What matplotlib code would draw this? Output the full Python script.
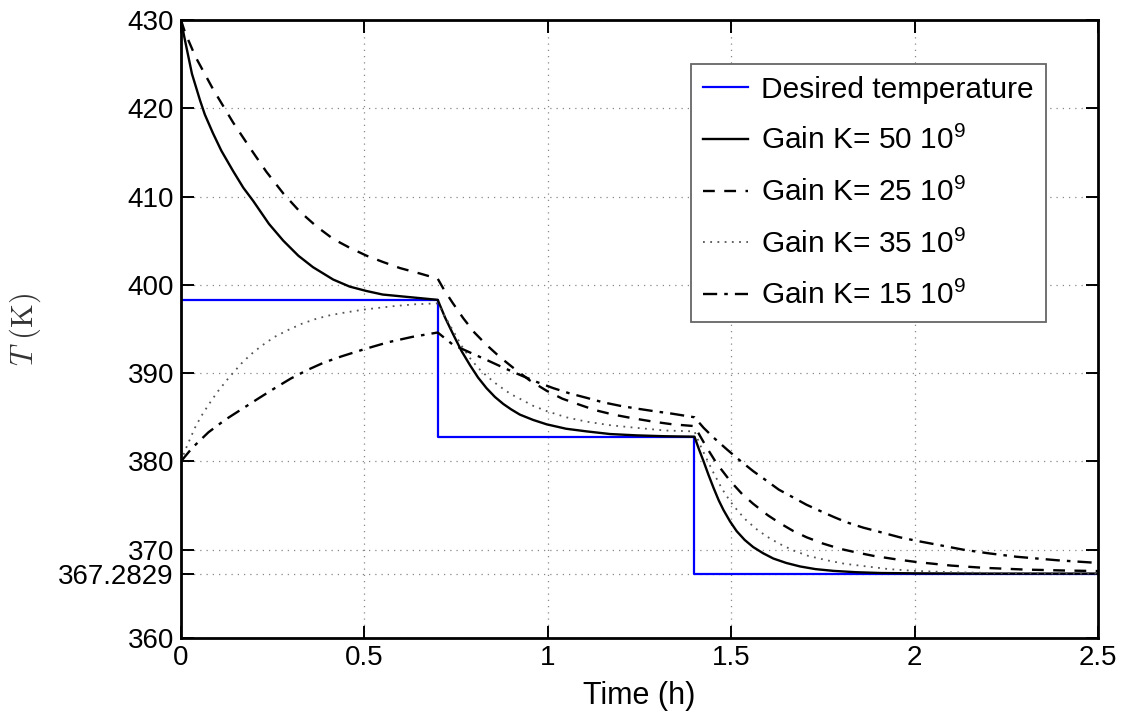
import numpy as np
import matplotlib
matplotlib.use("Agg")
import matplotlib.pyplot as plt

plt.rcParams['font.family'] = ['Liberation Sans', 'DejaVu Sans']
plt.rcParams['mathtext.fontset'] = 'custom'
plt.rcParams['mathtext.rm'] = 'Liberation Sans'
plt.rcParams['mathtext.it'] = 'Liberation Sans:italic'

# desired temperature (step profile)
t_des = [0.0, 0.7, 1.4, 2.5]
T_des = [398.3, 382.8, 367.2829, 367.2829]

# K = 50e9 (solid)
t_k50 = [0.0, 0.01, 0.03, 0.052, 0.065, 0.087, 0.11, 0.142, 0.17, 0.197, 0.24, 0.279, 0.32,
         0.36, 0.415, 0.46, 0.506, 0.55, 0.6, 0.65, 0.7,
         0.72, 0.742, 0.765, 0.788, 0.81, 0.833, 0.856, 0.879, 0.9, 0.924, 0.96, 0.997,
         1.05, 1.106, 1.17, 1.242, 1.32, 1.4,
         1.412, 1.424, 1.438, 1.452, 1.466, 1.479, 1.497, 1.515, 1.537, 1.56, 1.587,
         1.615, 1.65, 1.688, 1.73, 1.779, 1.84, 1.906, 2.0, 2.2, 2.5]
T_k50 = [430.0, 427.9, 423.9, 420.9, 419.3, 417.2, 415.2, 412.9, 411.0, 409.5, 406.9, 405.0, 403.3,
         402.0, 400.6, 399.8, 399.3, 398.9, 398.7, 398.5, 398.3,
         396.3, 394.4, 392.5, 390.9, 389.5, 388.3, 387.3, 386.5, 385.9, 385.3, 384.7, 384.2,
         383.7, 383.4, 383.1, 382.95, 382.85, 382.8,
         381.4, 380.1, 378.5, 377.0, 375.6, 374.5, 373.2, 372.1, 371.1, 370.3, 369.6,
         369.0, 368.5, 368.1, 367.8, 367.6, 367.45, 367.36, 367.32, 367.29, 367.29]

# K = 25e9 (dashed)
t_k25 = [0.0, 0.011, 0.04, 0.087, 0.142, 0.19, 0.233, 0.28, 0.324, 0.37, 0.415, 0.46, 0.506,
         0.55, 0.597, 0.65, 0.7,
         0.715, 0.74, 0.77, 0.8, 0.833, 0.87, 0.906, 0.95, 0.997, 1.04, 1.088, 1.13, 1.179,
         1.23, 1.288, 1.34, 1.4,
         1.415, 1.433, 1.46, 1.497, 1.53, 1.56, 1.6, 1.633, 1.67, 1.706, 1.75, 1.797, 1.84,
         1.888, 1.951, 2.006, 2.1, 2.187, 2.3, 2.4, 2.5]
T_k25 = [430.0, 428.6, 425.8, 422.2, 418.4, 415.4, 412.8, 410.3, 408.3, 406.6, 405.2, 404.2, 403.3,
         402.6, 401.9, 401.3, 400.7,
         399.6, 398.0, 396.2, 394.6, 393.2, 391.8, 390.6, 389.2, 388.0, 387.1, 386.4, 385.8, 385.3,
         384.9, 384.5, 384.2, 384.0,
         382.9, 381.6, 379.8, 377.8, 376.3, 375.2, 373.9, 373.0, 372.1, 371.4, 370.7, 370.1, 369.7,
         369.3, 368.9, 368.6, 368.2, 367.95, 367.75, 367.65, 367.58]

# K = 35e9 (dotted)
t_k35 = [0.0, 0.015, 0.038, 0.055, 0.075, 0.1, 0.129, 0.165, 0.19, 0.22, 0.255, 0.293, 0.33,
         0.365, 0.4, 0.438, 0.499, 0.583, 0.64, 0.7,
         0.72, 0.742, 0.765, 0.788, 0.81, 0.833, 0.856, 0.879, 0.9, 0.924, 0.96, 0.997,
         1.05, 1.106, 1.17, 1.242, 1.32, 1.4,
         1.415, 1.433, 1.452, 1.475, 1.497, 1.52, 1.542, 1.57, 1.597, 1.63, 1.67, 1.71,
         1.761, 1.81, 1.87, 1.93, 2.0, 2.1, 2.2, 2.35, 2.5]
T_k35 = [380.0, 381.6, 383.8, 385.1, 386.4, 387.9, 389.4, 391.1, 392.1, 393.1, 394.1, 394.9, 395.6,
         396.1, 396.5, 396.8, 397.2, 397.6, 397.8, 397.9,
         396.4, 394.8, 393.1, 391.7, 390.6, 389.7, 388.9, 388.2, 387.6, 387.1, 386.3, 385.7,
         385.0, 384.5, 384.1, 383.8, 383.5, 383.4,
         381.9, 380.3, 378.7, 376.9, 375.5, 374.3, 373.3, 372.3, 371.5, 370.7, 369.9, 369.3,
         368.8, 368.4, 368.1, 367.8, 367.6, 367.45, 367.37, 367.32, 367.3]

# K = 15e9 (dash-dot)
t_k15 = [0.0, 0.03, 0.075, 0.12, 0.165, 0.21, 0.256, 0.3, 0.347, 0.39, 0.438, 0.499, 0.565,
         0.63, 0.7,
         0.742, 0.79, 0.833, 0.88, 0.924, 0.97, 1.015, 1.06, 1.106, 1.15, 1.197, 1.24, 1.288,
         1.34, 1.4,
         1.425, 1.452, 1.49, 1.524, 1.56, 1.597, 1.63, 1.67, 1.705, 1.742, 1.78, 1.815, 1.86,
         1.906, 1.96, 2.006, 2.07, 2.133, 2.2, 2.278, 2.39, 2.5]
T_k15 = [380.0, 381.5, 383.3, 384.7, 385.9, 387.1, 388.3, 389.4, 390.4, 391.2, 391.9, 392.7, 393.5,
         394.1, 394.6,
         393.2, 392.3, 391.5, 390.6, 389.8, 389.0, 388.3, 387.7, 387.2, 386.7, 386.3, 386.0, 385.7,
         385.4, 385.0,
         383.8, 382.7, 381.3, 380.1, 378.9, 377.8, 376.8, 375.9, 375.1, 374.4, 373.7, 373.1, 372.5,
         372.0, 371.4, 371.0, 370.5, 370.0, 369.6, 369.2, 368.8, 368.5]

yticks = [360, 367.2829, 370, 380, 390, 400, 410, 420, 430]
yticklabels = ['360', '367.2829', '370', '380', '390', '400', '410', '420', '430']
xticks = [0, 0.5, 1, 1.5, 2, 2.5]
xticklabels = ['0', '0.5', '1', '1.5', '2', '2.5']

fig = plt.figure(figsize=(11.26, 7.11), dpi=100)
ax = fig.add_axes([0.1607, 0.1027, 0.8144, 0.8692])

ax.plot(t_des, T_des, color=(0, 0, 1), lw=1.6, drawstyle='steps-post', label='Desired temperature')
ax.plot(t_k50, T_k50, color='black', lw=1.7, ls='-', label='Gain K= 50 10$^9$')
ax.plot(t_k25, T_k25, color='black', lw=1.7, ls=(0, (5, 4)), label='Gain K= 25 10$^9$')
ax.plot(t_k35, T_k35, color='#555555', lw=1.3, ls=(0, (1, 3)), label='Gain K= 35 10$^9$')
ax.plot(t_k15, T_k15, color='black', lw=1.7, ls=(0, (6, 3, 1.5, 3)), label='Gain K= 15 10$^9$')

ax.set_xlim(0, 2.5)
ax.set_ylim(360, 430)
ax.set_xticks(xticks)
ax.set_xticklabels(xticklabels)
ax.set_yticks(yticks)
ax.set_yticklabels(yticklabels)
ax.tick_params(direction='in', length=9, width=1.4, labelsize=20, top=True, right=True, pad=5)
ax.grid(True, color='#888888', ls=(0, (1, 4)), lw=0.9)
for s in ax.spines.values():
    s.set_linewidth(2.0)

ax.set_xlabel('Time (h)', fontsize=22, labelpad=7)
ax.set_ylabel(r'$T\ \mathrm{(K)}$', fontsize=22, color='#333333', math_fontfamily='cm')
ax.yaxis.set_label_coords(-0.1505, 0.5)

leg = ax.legend(loc='upper right', bbox_to_anchor=(0.943, 0.929), borderaxespad=0, fontsize=21.5,
                fancybox=False, framealpha=1, edgecolor='#666666', handlelength=1.5,
                borderpad=0.4, labelspacing=0.75, handletextpad=0.45)
leg.get_frame().set_linewidth(1.3)

fig.savefig('out.png', dpi=100)
